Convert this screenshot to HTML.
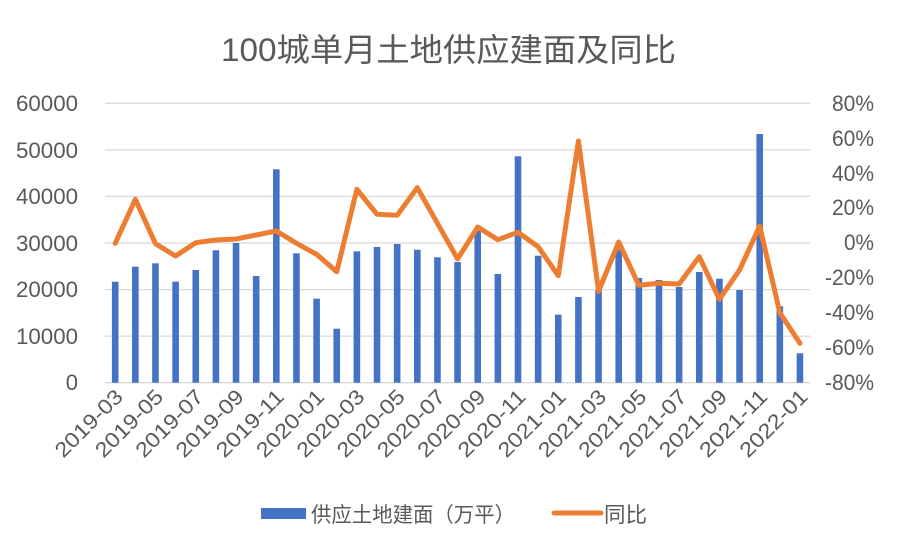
<!DOCTYPE html>
<html><head><meta charset="utf-8"><style>
html,body{margin:0;padding:0;background:#fff;}
svg text{font-family:"Liberation Sans","Noto Sans CJK SC",sans-serif;fill:#595959;}
</style></head><body>
<svg width="900" height="549" viewBox="0 0 900 549" xmlns="http://www.w3.org/2000/svg">
<text x="221" y="61" font-size="32" textLength="455" lengthAdjust="spacingAndGlyphs">100城单月土地供应建面及同比</text>
<g stroke="#d9d9d9" stroke-width="1.3">
<line x1="105" x2="810" y1="103.3" y2="103.3"/>
<line x1="105" x2="810" y1="149.9" y2="149.9"/>
<line x1="105" x2="810" y1="196.4" y2="196.4"/>
<line x1="105" x2="810" y1="243" y2="243"/>
<line x1="105" x2="810" y1="289.6" y2="289.6"/>
<line x1="105" x2="810" y1="336.1" y2="336.1"/>
<line x1="105" x2="810" y1="382.7" y2="382.7"/>
</g>
<g font-size="22" text-anchor="end" lengthAdjust="spacingAndGlyphs">
<text x="78" y="111" textLength="62" lengthAdjust="spacingAndGlyphs">60000</text>
<text x="78" y="158" textLength="62" lengthAdjust="spacingAndGlyphs">50000</text>
<text x="78" y="204" textLength="62" lengthAdjust="spacingAndGlyphs">40000</text>
<text x="78" y="251" textLength="62" lengthAdjust="spacingAndGlyphs">30000</text>
<text x="78" y="297" textLength="62" lengthAdjust="spacingAndGlyphs">20000</text>
<text x="78" y="344" textLength="62" lengthAdjust="spacingAndGlyphs">10000</text>
<text x="78" y="390">0</text>
</g>
<g font-size="22" text-anchor="end">
<text x="874" y="111" textLength="42" lengthAdjust="spacingAndGlyphs">80%</text>
<text x="874" y="146" textLength="42" lengthAdjust="spacingAndGlyphs">60%</text>
<text x="874" y="181" textLength="42" lengthAdjust="spacingAndGlyphs">40%</text>
<text x="874" y="215" textLength="42" lengthAdjust="spacingAndGlyphs">20%</text>
<text x="874" y="250" textLength="30" lengthAdjust="spacingAndGlyphs">0%</text>
<text x="874" y="285" textLength="49" lengthAdjust="spacingAndGlyphs">-20%</text>
<text x="874" y="320" textLength="49" lengthAdjust="spacingAndGlyphs">-40%</text>
<text x="874" y="355" textLength="49" lengthAdjust="spacingAndGlyphs">-60%</text>
<text x="874" y="390" textLength="49" lengthAdjust="spacingAndGlyphs">-80%</text>
</g>
<g fill="#4472c4" id="bars"></g>
<polyline id="ln" fill="none" stroke="#ed7d31" stroke-width="5" stroke-linejoin="round" stroke-linecap="round" points=""/>
<g id="xl" font-size="21" text-anchor="end"></g>
<rect x="261" y="508" width="45" height="11" fill="#4472c4"/>
<text x="311" y="522" font-size="21" textLength="204" lengthAdjust="spacingAndGlyphs">供应土地建面（万平）</text>
<line x1="554" x2="601" y1="513" y2="513" stroke="#ed7d31" stroke-width="5" stroke-linecap="round"/>
<text x="604" y="522" font-size="21" textLength="43" lengthAdjust="spacingAndGlyphs">同比</text>
<script>
var tops=[281.7,266.7,263.3,281.7,270,250.3,243,276,169.3,253.3,298.7,328.7,251.3,247,244,249.7,257.3,262,231,274,156.3,255.7,314.7,297,290,249.3,278,280,287,272,278.7,290,134,306.3,353.3];
var ly=[243.3,199.3,243.7,256,242.7,240,239,235,231,243.3,254.3,271.7,189.3,214.3,215.3,187.7,223.3,259,227,239.7,232.3,246.7,275.7,141,291.3,242,285.3,283.3,284,256.7,299.3,270,226,312.7,343.3];
var b=document.getElementById('bars'),xl=document.getElementById('xl'),pts=[],ns='http://www.w3.org/2000/svg';
for(var i=0;i<35;i++){var x=115.2+i*20.14;
var r=document.createElementNS(ns,'rect');r.setAttribute('x',x-3.3);r.setAttribute('y',tops[i]);r.setAttribute('width',6.6);r.setAttribute('height',382.7-tops[i]);b.appendChild(r);
pts.push(x+','+ly[i]);
if(i%2==0){var m=i+3,y=2019+Math.floor((m-1)/12);m=(m-1)%12+1;
var t=document.createElementNS(ns,'text');t.setAttribute('transform','translate('+(x+9)+',398) rotate(-45)');t.setAttribute('textLength','86');t.setAttribute('lengthAdjust','spacingAndGlyphs');t.textContent=y+'-'+(m<10?'0':'')+m;xl.appendChild(t);}}
document.getElementById('ln').setAttribute('points',pts.join(' '));
</script>
</svg>
</body></html>
